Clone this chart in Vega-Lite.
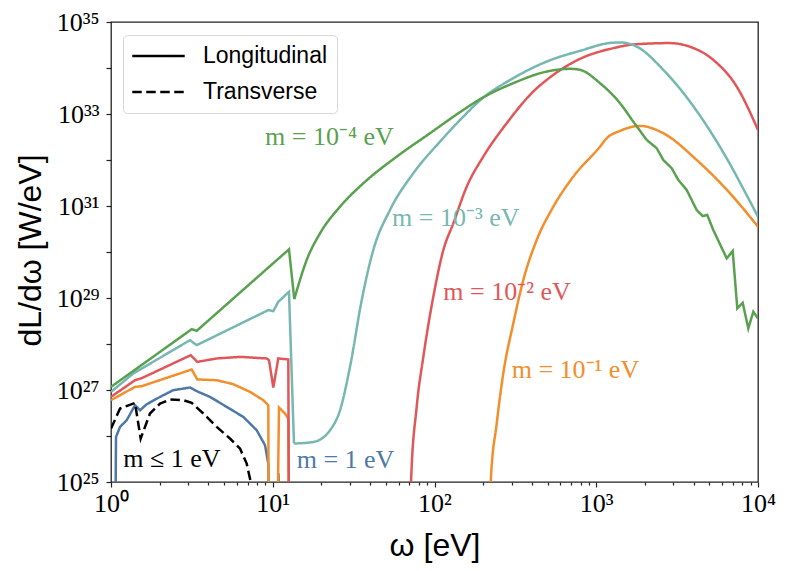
{
  "$schema": "https://vega.github.io/schema/vega-lite/v6.json",
  "width": 647,
  "height": 460,
  "autosize": "none",
  "padding": {"left": 111, "top": 22, "right": 31, "bottom": 89},
  "background": "white",
  "config": {
    "view": {"stroke": "#222222", "strokeWidth": 1.3},
    "axis": {
      "grid": false,
      "domain": false,
      "tickColor": "#222222",
      "tickWidth": 1.2,
      "labelFont": "Liberation Serif",
      "labelFontSize": 26,
      "labelColor": "black",
      "titleFont": "Liberation Sans",
      "titleFontSize": 32,
      "titleFontWeight": "normal",
      "titleColor": "black"
    },
    "legend": {
      "labelFont": "Liberation Sans",
      "labelFontSize": 23,
      "labelColor": "black"
    }
  },
  "datasets": {
    "curves": [
      {"series": "m0", "pol": "Longitudinal", "i": 0, "omega": 1.059, "L": 1e23},
      {"series": "m0", "pol": "Longitudinal", "i": 1, "omega": 1.074, "L": 9.53e25},
      {"series": "m0", "pol": "Longitudinal", "i": 2, "omega": 1.137, "L": 1.574e26},
      {"series": "m0", "pol": "Longitudinal", "i": 3, "omega": 1.25, "L": 2.2e26},
      {"series": "m0", "pol": "Longitudinal", "i": 4, "omega": 1.407, "L": 4.67e26},
      {"series": "m0", "pol": "Longitudinal", "i": 5, "omega": 1.512, "L": 3.63e26},
      {"series": "m0", "pol": "Longitudinal", "i": 6, "omega": 1.663, "L": 4.91e26},
      {"series": "m0", "pol": "Longitudinal", "i": 7, "omega": 2.009, "L": 7.08e26},
      {"series": "m0", "pol": "Longitudinal", "i": 8, "omega": 2.428, "L": 9.91e26},
      {"series": "m0", "pol": "Longitudinal", "i": 9, "omega": 3.079, "L": 1.132e27},
      {"series": "m0", "pol": "Longitudinal", "i": 10, "omega": 3.465, "L": 9.1e26},
      {"series": "m0", "pol": "Longitudinal", "i": 11, "omega": 4.094, "L": 7.08e26},
      {"series": "m0", "pol": "Longitudinal", "i": 12, "omega": 5.193, "L": 4.29e26},
      {"series": "m0", "pol": "Longitudinal", "i": 13, "omega": 6.577, "L": 2.6e26},
      {"series": "m0", "pol": "Longitudinal", "i": 14, "omega": 7.958, "L": 1.334e26},
      {"series": "m0", "pol": "Longitudinal", "i": 15, "omega": 8.959, "L": 6.3e25},
      {"series": "m0", "pol": "Longitudinal", "i": 16, "omega": 9.387, "L": 2.51e25},
      {"series": "m0", "pol": "Longitudinal", "i": 17, "omega": 9.55, "L": 1e23},
      {"series": "m0", "pol": "Longitudinal", "i": 18, "omega": 10.75, "L": 1e23},
      {"series": "m0", "pol": "Longitudinal", "i": 19, "omega": 10.85, "L": 1.55e25},
      {"series": "m0", "pol": "Longitudinal", "i": 20, "omega": 11.2, "L": 1e23},

      {"series": "m1", "pol": "Longitudinal", "i": 0, "omega": 1, "L": 6.0e26},
      {"series": "m1", "pol": "Longitudinal", "i": 1, "omega": 1.407, "L": 1.167e27},
      {"series": "m1", "pol": "Longitudinal", "i": 2, "omega": 1.548, "L": 1.211e27},
      {"series": "m1", "pol": "Longitudinal", "i": 3, "omega": 3.155, "L": 2.79e27},
      {"series": "m1", "pol": "Longitudinal", "i": 4, "omega": 3.417, "L": 1.694e27},
      {"series": "m1", "pol": "Longitudinal", "i": 5, "omega": 4.503, "L": 1.633e27},
      {"series": "m1", "pol": "Longitudinal", "i": 6, "omega": 5.703, "L": 1.337e27},
      {"series": "m1", "pol": "Longitudinal", "i": 7, "omega": 7.235, "L": 9.1e26},
      {"series": "m1", "pol": "Longitudinal", "i": 8, "omega": 8.741, "L": 6.0e26},
      {"series": "m1", "pol": "Longitudinal", "i": 9, "omega": 9.387, "L": 4.67e26},
      {"series": "m1", "pol": "Longitudinal", "i": 10, "omega": 9.45, "L": 1e23},
      {"series": "m1", "pol": "Longitudinal", "i": 11, "omega": 10.6, "L": 1e23},
      {"series": "m1", "pol": "Longitudinal", "i": 12, "omega": 10.93, "L": 4.16e26},
      {"series": "m1", "pol": "Longitudinal", "i": 13, "omega": 11.9, "L": 3.08e26},
      {"series": "m1", "pol": "Longitudinal", "i": 14, "omega": 12.48, "L": 2.4e26},
      {"series": "m1", "pol": "Longitudinal", "i": 15, "omega": 12.62, "L": 1e23},
      {"series": "m1", "pol": "Longitudinal", "i": 16, "omega": 221, "L": 1e23},
      {"series": "m1", "pol": "Longitudinal", "i": 17, "omega": 222.6, "L": 1e25},
      {"series": "m1", "pol": "Longitudinal", "i": 18, "omega": 242.4, "L": 1.866e26},
      {"series": "m1", "pol": "Longitudinal", "i": 19, "omega": 266.2, "L": 2.286e27},
      {"series": "m1", "pol": "Longitudinal", "i": 20, "omega": 307, "L": 2.8e28},
      {"series": "m1", "pol": "Longitudinal", "i": 21, "omega": 354, "L": 2.455e29},
      {"series": "m1", "pol": "Longitudinal", "i": 22, "omega": 428.4, "L": 1.82e30},
      {"series": "m1", "pol": "Longitudinal", "i": 23, "omega": 542.8, "L": 9.66e30},
      {"series": "m1", "pol": "Longitudinal", "i": 24, "omega": 721.4, "L": 4.35e31},
      {"series": "m1", "pol": "Longitudinal", "i": 25, "omega": 1055, "L": 1.954e32},
      {"series": "m1", "pol": "Longitudinal", "i": 26, "omega": 1160, "L": 2.97e32},
      {"series": "m1", "pol": "Longitudinal", "i": 27, "omega": 1402, "L": 4.29e32},
      {"series": "m1", "pol": "Longitudinal", "i": 28, "omega": 1864, "L": 5.51e32},
      {"series": "m1", "pol": "Longitudinal", "i": 29, "omega": 2597, "L": 3.82e32},
      {"series": "m1", "pol": "Longitudinal", "i": 30, "omega": 4178, "L": 1.002e32},
      {"series": "m1", "pol": "Longitudinal", "i": 31, "omega": 6713, "L": 1.888e31},
      {"series": "m1", "pol": "Longitudinal", "i": 32, "omega": 10000, "L": 3.55e30},

      {"series": "m2", "pol": "Longitudinal", "i": 0, "omega": 1, "L": 7.08e26},
      {"series": "m2", "pol": "Longitudinal", "i": 1, "omega": 1.407, "L": 1.633e27},
      {"series": "m2", "pol": "Longitudinal", "i": 2, "omega": 1.548, "L": 1.807e27},
      {"series": "m2", "pol": "Longitudinal", "i": 3, "omega": 3.11, "L": 5.71e27},
      {"series": "m2", "pol": "Longitudinal", "i": 4, "omega": 3.417, "L": 4.09e27},
      {"series": "m2", "pol": "Longitudinal", "i": 5, "omega": 4.503, "L": 4.85e27},
      {"series": "m2", "pol": "Longitudinal", "i": 6, "omega": 6.274, "L": 5.25e27},
      {"series": "m2", "pol": "Longitudinal", "i": 7, "omega": 9.176, "L": 4.85e27},
      {"series": "m2", "pol": "Longitudinal", "i": 8, "omega": 9.48, "L": 4.46e27},
      {"series": "m2", "pol": "Longitudinal", "i": 9, "omega": 10.08, "L": 1.132e27},
      {"series": "m2", "pol": "Longitudinal", "i": 10, "omega": 10.82, "L": 4.85e27},
      {"series": "m2", "pol": "Longitudinal", "i": 11, "omega": 12.48, "L": 4.61e27},
      {"series": "m2", "pol": "Longitudinal", "i": 12, "omega": 12.62, "L": 1e23},
      {"series": "m2", "pol": "Longitudinal", "i": 13, "omega": 70.8, "L": 1e23},
      {"series": "m2", "pol": "Longitudinal", "i": 14, "omega": 71.6, "L": 1e25},
      {"series": "m2", "pol": "Longitudinal", "i": 15, "omega": 77.6, "L": 4.29e26},
      {"series": "m2", "pol": "Longitudinal", "i": 16, "omega": 85.3, "L": 5.25e27},
      {"series": "m2", "pol": "Longitudinal", "i": 17, "omega": 98.3, "L": 1.062e29},
      {"series": "m2", "pol": "Longitudinal", "i": 18, "omega": 113.4, "L": 1.102e30},
      {"series": "m2", "pol": "Longitudinal", "i": 19, "omega": 130.7, "L": 4.2e30},
      {"series": "m2", "pol": "Longitudinal", "i": 20, "omega": 158.2, "L": 2.63e31},
      {"series": "m2", "pol": "Longitudinal", "i": 21, "omega": 200.3, "L": 1.183e32},
      {"series": "m2", "pol": "Longitudinal", "i": 22, "omega": 279.5, "L": 6.31e32},
      {"series": "m2", "pol": "Longitudinal", "i": 23, "omega": 418.2, "L": 3.35e33},
      {"series": "m2", "pol": "Longitudinal", "i": 24, "omega": 494, "L": 5.52e33},
      {"series": "m2", "pol": "Longitudinal", "i": 25, "omega": 793, "L": 1.581e34},
      {"series": "m2", "pol": "Longitudinal", "i": 26, "omega": 1275, "L": 2.7e34},
      {"series": "m2", "pol": "Longitudinal", "i": 27, "omega": 1617, "L": 3.19e34},
      {"series": "m2", "pol": "Longitudinal", "i": 28, "omega": 2051, "L": 3.38e34},
      {"series": "m2", "pol": "Longitudinal", "i": 29, "omega": 2829, "L": 3.48e34},
      {"series": "m2", "pol": "Longitudinal", "i": 30, "omega": 3761, "L": 2.93e34},
      {"series": "m2", "pol": "Longitudinal", "i": 31, "omega": 5291, "L": 1.503e34},
      {"series": "m2", "pol": "Longitudinal", "i": 32, "omega": 7385, "L": 3.94e33},
      {"series": "m2", "pol": "Longitudinal", "i": 33, "omega": 10000, "L": 4.51e32},

      {"series": "m3", "pol": "Longitudinal", "i": 0, "omega": 1, "L": 9.1e26},
      {"series": "m3", "pol": "Longitudinal", "i": 1, "omega": 1.374, "L": 2.286e27},
      {"series": "m3", "pol": "Longitudinal", "i": 2, "omega": 3.079, "L": 1.213e28},
      {"series": "m3", "pol": "Longitudinal", "i": 3, "omega": 3.387, "L": 9.44e27},
      {"series": "m3", "pol": "Longitudinal", "i": 4, "omega": 9.387, "L": 5.46e28},
      {"series": "m3", "pol": "Longitudinal", "i": 5, "omega": 10.08, "L": 5.19e28},
      {"series": "m3", "pol": "Longitudinal", "i": 6, "omega": 10.82, "L": 8.26e28},
      {"series": "m3", "pol": "Longitudinal", "i": 7, "omega": 12.6, "L": 1.365e29},
      {"series": "m3", "pol": "Longitudinal", "i": 8, "omega": 13.53, "L": 6.86e25},
      {"series": "m3", "pol": "Longitudinal", "i": 9, "omega": 17.81, "L": 7.43e25},
      {"series": "m3", "pol": "Longitudinal", "i": 10, "omega": 22.59, "L": 1.334e26},
      {"series": "m3", "pol": "Longitudinal", "i": 11, "omega": 26.05, "L": 3.63e26},
      {"series": "m3", "pol": "Longitudinal", "i": 12, "omega": 30.03, "L": 3.18e27},
      {"series": "m3", "pol": "Longitudinal", "i": 13, "omega": 35.48, "L": 8.99e28},
      {"series": "m3", "pol": "Longitudinal", "i": 14, "omega": 41.83, "L": 1.102e30},
      {"series": "m3", "pol": "Longitudinal", "i": 15, "omega": 53.08, "L": 8.18e30},
      {"series": "m3", "pol": "Longitudinal", "i": 16, "omega": 73.96, "L": 5.15e31},
      {"series": "m3", "pol": "Longitudinal", "i": 17, "omega": 108.1, "L": 2.506e32},
      {"series": "m3", "pol": "Longitudinal", "i": 18, "omega": 150.7, "L": 8.77e32},
      {"series": "m3", "pol": "Longitudinal", "i": 19, "omega": 191.1, "L": 1.977e33},
      {"series": "m3", "pol": "Longitudinal", "i": 20, "omega": 307, "L": 6.01e33},
      {"series": "m3", "pol": "Longitudinal", "i": 21, "omega": 494, "L": 1.38e34},
      {"series": "m3", "pol": "Longitudinal", "i": 22, "omega": 793, "L": 2.36e34},
      {"series": "m3", "pol": "Longitudinal", "i": 23, "omega": 1275, "L": 3.55e34},
      {"series": "m3", "pol": "Longitudinal", "i": 24, "omega": 1420, "L": 3.58e34},
      {"series": "m3", "pol": "Longitudinal", "i": 25, "omega": 1778, "L": 2.93e34},
      {"series": "m3", "pol": "Longitudinal", "i": 26, "omega": 2597, "L": 9.12e33},
      {"series": "m3", "pol": "Longitudinal", "i": 27, "omega": 3295, "L": 3.53e33},
      {"series": "m3", "pol": "Longitudinal", "i": 28, "omega": 4178, "L": 1.167e33},
      {"series": "m3", "pol": "Longitudinal", "i": 29, "omega": 5291, "L": 3.33e32},
      {"series": "m3", "pol": "Longitudinal", "i": 30, "omega": 6713, "L": 8.13e31},
      {"series": "m3", "pol": "Longitudinal", "i": 31, "omega": 8313, "L": 2.01e31},
      {"series": "m3", "pol": "Longitudinal", "i": 32, "omega": 10000, "L": 5.85e30},

      {"series": "m4", "pol": "Longitudinal", "i": 0, "omega": 1, "L": 1.167e27},
      {"series": "m4", "pol": "Longitudinal", "i": 1, "omega": 3.155, "L": 2.1e28},
      {"series": "m4", "pol": "Longitudinal", "i": 2, "omega": 3.387, "L": 1.932e28},
      {"series": "m4", "pol": "Longitudinal", "i": 3, "omega": 12.6, "L": 1.143e30},
      {"series": "m4", "pol": "Longitudinal", "i": 4, "omega": 13.59, "L": 9.46e28},
      {"series": "m4", "pol": "Longitudinal", "i": 5, "omega": 16.21, "L": 6.68e29},
      {"series": "m4", "pol": "Longitudinal", "i": 6, "omega": 19.6, "L": 2.547e30},
      {"series": "m4", "pol": "Longitudinal", "i": 7, "omega": 26.05, "L": 9.66e30},
      {"series": "m4", "pol": "Longitudinal", "i": 8, "omega": 36.3, "L": 3.119e31},
      {"series": "m4", "pol": "Longitudinal", "i": 9, "omega": 58.4, "L": 1.183e32},
      {"series": "m4", "pol": "Longitudinal", "i": 10, "omega": 93.8, "L": 3.82e32},
      {"series": "m4", "pol": "Longitudinal", "i": 11, "omega": 150.7, "L": 1.227e33},
      {"series": "m4", "pol": "Longitudinal", "i": 12, "omega": 191.1, "L": 2.099e33},
      {"series": "m4", "pol": "Longitudinal", "i": 13, "omega": 307, "L": 4.677e33},
      {"series": "m4", "pol": "Longitudinal", "i": 14, "omega": 494, "L": 8.375e33},
      {"series": "m4", "pol": "Longitudinal", "i": 15, "omega": 688, "L": 9.594e33},
      {"series": "m4", "pol": "Longitudinal", "i": 16, "omega": 793, "L": 9.12e33},
      {"series": "m4", "pol": "Longitudinal", "i": 17, "omega": 1055, "L": 4.677e33},
      {"series": "m4", "pol": "Longitudinal", "i": 18, "omega": 1402, "L": 1.718e33},
      {"series": "m4", "pol": "Longitudinal", "i": 19, "omega": 1694, "L": 6.84e32},
      {"series": "m4", "pol": "Longitudinal", "i": 20, "omega": 2051, "L": 2.729e32},
      {"series": "m4", "pol": "Longitudinal", "i": 21, "omega": 2364, "L": 1.803e32},
      {"series": "m4", "pol": "Longitudinal", "i": 22, "omega": 2597, "L": 1.002e32},
      {"series": "m4", "pol": "Longitudinal", "i": 23, "omega": 2928, "L": 6.62e31},
      {"series": "m4", "pol": "Longitudinal", "i": 24, "omega": 3217, "L": 3.68e31},
      {"series": "m4", "pol": "Longitudinal", "i": 25, "omega": 3624, "L": 2.228e31},
      {"series": "m4", "pol": "Longitudinal", "i": 26, "omega": 4178, "L": 8.18e30},
      {"series": "m4", "pol": "Longitudinal", "i": 27, "omega": 4550, "L": 6.05e30},
      {"series": "m4", "pol": "Longitudinal", "i": 28, "omega": 4859, "L": 6.37e30},
      {"series": "m4", "pol": "Longitudinal", "i": 29, "omega": 5291, "L": 3.006e30},
      {"series": "m4", "pol": "Longitudinal", "i": 30, "omega": 6406, "L": 7.28e29},
      {"series": "m4", "pol": "Longitudinal", "i": 31, "omega": 6976, "L": 1.05e30},
      {"series": "m4", "pol": "Longitudinal", "i": 32, "omega": 7447, "L": 5.94e28},
      {"series": "m4", "pol": "Longitudinal", "i": 33, "omega": 8043, "L": 7.87e28},
      {"series": "m4", "pol": "Longitudinal", "i": 34, "omega": 8710, "L": 2.178e28},
      {"series": "m4", "pol": "Longitudinal", "i": 35, "omega": 9353, "L": 5.01e28},
      {"series": "m4", "pol": "Longitudinal", "i": 36, "omega": 10000, "L": 3.597e28},

      {"series": "T", "pol": "Transverse", "i": 0, "omega": 1, "L": 1.452e26},
      {"series": "T", "pol": "Transverse", "i": 1, "omega": 1.137, "L": 3.95e26},
      {"series": "T", "pol": "Transverse", "i": 2, "omega": 1.407, "L": 5.24e26},
      {"series": "T", "pol": "Transverse", "i": 3, "omega": 1.526, "L": 8.81e25},
      {"series": "T", "pol": "Transverse", "i": 4, "omega": 1.742, "L": 3.08e26},
      {"series": "T", "pol": "Transverse", "i": 5, "omega": 2.009, "L": 5.08e26},
      {"series": "T", "pol": "Transverse", "i": 6, "omega": 2.316, "L": 6.21e26},
      {"series": "T", "pol": "Transverse", "i": 7, "omega": 2.799, "L": 6.0e26},
      {"series": "T", "pol": "Transverse", "i": 8, "omega": 3.155, "L": 5.24e26},
      {"series": "T", "pol": "Transverse", "i": 9, "omega": 3.721, "L": 3.08e26},
      {"series": "T", "pol": "Transverse", "i": 10, "omega": 4.503, "L": 1.574e26},
      {"series": "T", "pol": "Transverse", "i": 11, "omega": 5.441, "L": 8.81e25},
      {"series": "T", "pol": "Transverse", "i": 12, "omega": 6.274, "L": 5.33e25},
      {"series": "T", "pol": "Transverse", "i": 13, "omega": 6.902, "L": 2.51e25},
      {"series": "T", "pol": "Transverse", "i": 14, "omega": 7.306, "L": 1e25},
      {"series": "T", "pol": "Transverse", "i": 15, "omega": 7.5, "L": 1e23}
    ],
    "labels": [
      {"series": "m4", "omega": 8.96, "L": 3.2e32, "label": "m = 10⁻⁴ eV"},
      {"series": "m3", "omega": 54.6, "L": 5.48e30, "label": "m = 10⁻³ eV"},
      {"series": "m2", "omega": 113.4, "L": 1.365e29, "label": "m = 10⁻² eV"},
      {"series": "m1", "omega": 300, "L": 2.7e27, "label": "m = 10⁻¹ eV"},
      {"series": "m0", "omega": 14.06, "L": 2.97e25, "label": "m = 1 eV"},
      {"series": "T", "omega": 1.191, "L": 3.23e25, "label": "m ≤ 1 eV"}
    ]
  },
  "layer": [
    {
      "data": {"name": "curves"},
      "transform": [{"filter": "datum.omega <= 13.6"}],
      "mark": {"type": "line", "clip": true, "strokeWidth": 2.5},
      "encoding": {
        "x": {
          "field": "omega",
          "type": "quantitative",
          "scale": {"type": "log", "domain": [1, 10000], "nice": false},
          "axis": {
            "orient": "bottom",
            "values": [1, 10, 100, 1000, 10000],
            "tickSize": 5,
            "labelPadding": 3,
            "labelFlush": false,
            "labelOverlap": false,
            "labelExpr": "['10⁰','10¹','10²','10³','10⁴'][round(log(datum.value)/LN10)]",
            "title": "ω [eV]",
            "titleY": 63,
            "titleBaseline": "middle"
          }
        },
        "y": {
          "field": "L",
          "type": "quantitative",
          "scale": {"type": "log", "domain": [1e25, 1e35], "nice": false},
          "axis": {
            "values": [1e25, 1e26, 1e27, 1e28, 1e29, 1e30, 1e31, 1e32, 1e33, 1e34, 1e35],
            "tickSize": 5,
            "labelPadding": 7,
            "labelFlush": false,
            "labelOverlap": false,
            "labelBaseline": "middle",
            "labelExpr": "['10²⁵','','10²⁷','','10²⁹','','10³¹','','10³³','','10³⁵'][round(log(datum.value)/LN10)-25]",
            "title": "dL/dω [W/eV]",
            "titleAngle": -90,
            "titleX": -81,
            "titleY": 228,
            "titleAlign": "center",
            "titleBaseline": "middle"
          }
        },
        "color": {
          "field": "series",
          "type": "nominal",
          "scale": {
            "domain": ["m0", "m1", "m2", "m3", "m4", "T"],
            "range": ["#4e79a7", "#f28e2b", "#e15759", "#76b7b2", "#59a14f", "#000000"]
          },
          "legend": null
        },
        "strokeDash": {
          "field": "pol",
          "type": "nominal",
          "scale": {"domain": ["Longitudinal", "Transverse"], "range": [[1, 0], [9.5, 4.5]]},
          "legend": {
            "title": null,
            "orient": "none",
            "legendX": 12,
            "legendY": 13,
            "symbolType": "M-1.12,0H3.88",
            "symbolSize": 441,
            "symbolStrokeWidth": 2.5,
            "symbolStrokeColor": "black",
            "labelOffset": 47,
            "rowPadding": 12,
            "padding": 9,
            "fillColor": "white",
            "strokeColor": "#d8d8d8",
            "cornerRadius": 4
          }
        },
        "order": {"field": "i", "type": "quantitative"}
      }
    },
    {
      "data": {"name": "curves"},
      "transform": [{"filter": "datum.omega >= 13.5 && (datum.series != 'm4' || datum.omega <= 2100)"}],
      "mark": {"type": "line", "clip": true, "strokeWidth": 2.5, "interpolate": "monotone"},
      "encoding": {
        "x": {"field": "omega", "type": "quantitative", "axis": null},
        "y": {"field": "L", "type": "quantitative"},
        "color": {"field": "series", "type": "nominal", "legend": null},
        "strokeDash": {"field": "pol", "type": "nominal"},
        "order": {"field": "i", "type": "quantitative"}
      }
    },
    {
      "data": {"name": "curves"},
      "transform": [{"filter": "datum.series == 'm4' && datum.omega >= 2000"}],
      "mark": {"type": "line", "clip": true, "strokeWidth": 2.5},
      "encoding": {
        "x": {"field": "omega", "type": "quantitative", "axis": null},
        "y": {"field": "L", "type": "quantitative"},
        "color": {"field": "series", "type": "nominal", "legend": null},
        "strokeDash": {"field": "pol", "type": "nominal"},
        "order": {"field": "i", "type": "quantitative"}
      }
    },
    {
      "data": {"name": "labels"},
      "mark": {"type": "text", "align": "left", "baseline": "middle", "font": "Liberation Serif", "fontSize": 26},
      "encoding": {
        "x": {
          "field": "omega",
          "type": "quantitative",
          "axis": {
            "orient": "bottom",
            "values": [2, 3, 4, 5, 6, 7, 8, 9, 20, 30, 40, 50, 60, 70, 80, 90, 200, 300, 400, 500, 600, 700, 800, 900, 2000, 3000, 4000, 5000, 6000, 7000, 8000, 9000],
            "tickSize": 3,
            "labels": false,
            "title": null
          }
        },
        "y": {"field": "L", "type": "quantitative"},
        "text": {"field": "label"},
        "color": {"field": "series", "type": "nominal", "legend": null}
      }
    }
  ],
  "resolve": {"axis": {"x": "independent"}}
}
